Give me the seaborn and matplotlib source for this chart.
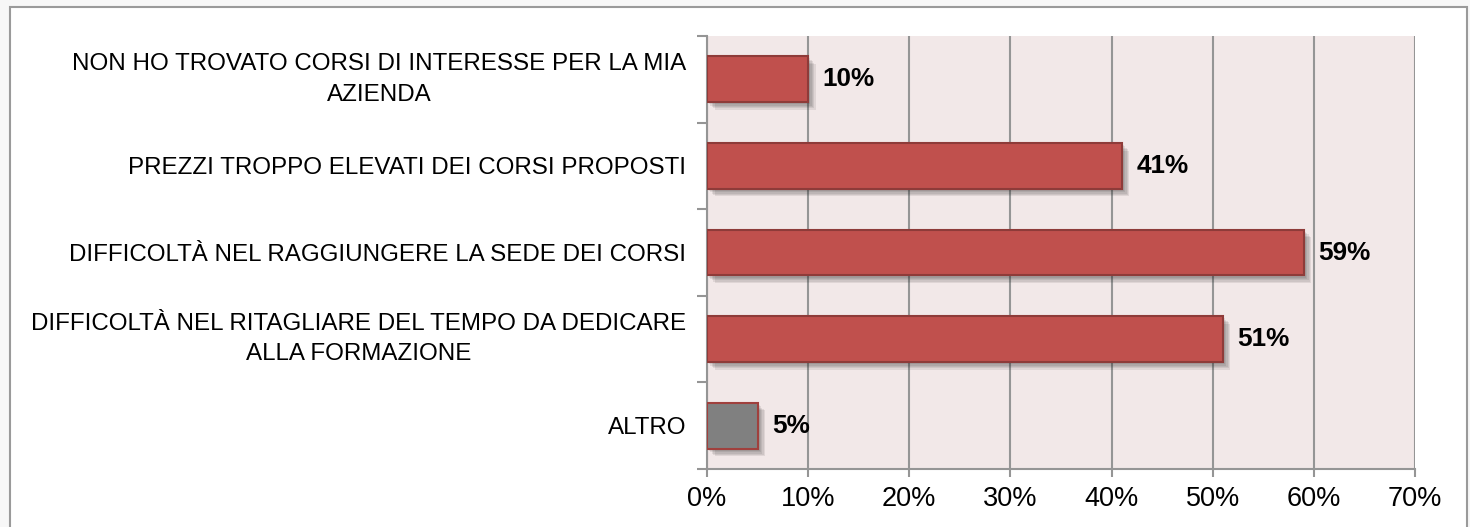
import matplotlib
matplotlib.use("Agg")
import matplotlib.pyplot as plt
import matplotlib.patheffects as pe
from matplotlib.patches import Rectangle
from matplotlib.ticker import FixedLocator, PercentFormatter
import seaborn as sns
import pandas as pd

categories = [
    "NON HO TROVATO CORSI DI INTERESSE PER LA MIA\nAZIENDA",
    "PREZZI TROPPO ELEVATI DEI CORSI PROPOSTI",
    "DIFFICOLTÀ NEL RAGGIUNGERE LA SEDE DEI CORSI",
    "DIFFICOLTÀ NEL RITAGLIARE DEL TEMPO DA DEDICARE\nALLA FORMAZIONE",
    "ALTRO",
]
values = [10, 41, 59, 51, 5]
bar_colors = ["#C0504D", "#C0504D", "#C0504D", "#C0504D", "#808080"]
edge_colors = ["#8E3B39", "#8E3B39", "#8E3B39", "#8E3B39", "#A0403D"]
x_ticks = [0, 10, 20, 30, 40, 50, 60, 70]

sns.set_theme(style="white")
plt.rcParams['font.family'] = ['Liberation Sans', 'DejaVu Sans']
plt.rcParams['text.color'] = 'black'
plt.rcParams['xtick.color'] = 'black'
plt.rcParams['ytick.color'] = 'black'

df = pd.DataFrame({"cat": categories, "val": values})

fig = plt.figure(figsize=(14.7, 5.27), dpi=100)
fig.patch.set_facecolor("#F7F7F7")
fig.patches.append(Rectangle((10 / 1470, -0.05), 1457 / 1470, 1.05 - 7 / 527,
                             transform=fig.transFigure, facecolor="white",
                             edgecolor="#9A9A9A", linewidth=1.5, zorder=-5))

ax = fig.add_axes([707 / 1470, 1 - 469 / 527, 708 / 1470, 433 / 527])
ax.set_facecolor("#F2E8E8")

sns.barplot(data=df, x="val", y="cat", hue="cat", palette=bar_colors, saturation=1,
            orient="h", width=0.53, legend=False, ax=ax, zorder=3)

shadow = [pe.SimplePatchShadow(offset=(o, -o), shadow_rgbFace="#202020", alpha=0.09)
          for o in (1.5, 2.5, 3.5, 4.5, 5.5)]
for patch, ec in zip(ax.patches, edge_colors):
    patch.set_edgecolor(ec)
    patch.set_linewidth(1.5)
    patch.set_path_effects(shadow + [pe.Normal()])

for i, v in enumerate(values):
    ax.annotate(f"{v}%", xy=(v, i), xytext=(10.5, 0), textcoords="offset points",
                ha="left", va="center", fontsize=18.8, fontweight="bold", color="black", zorder=5)

ax.set_xlim(0, 70)
ax.set_ylim(len(categories) - 0.5, -0.5)
ax.xaxis.set_major_locator(FixedLocator(x_ticks))
ax.xaxis.set_major_formatter(PercentFormatter(decimals=0))
ax.grid(axis="x", color="#959595", linewidth=1.5, zorder=1)
ax.grid(axis="y", visible=False)
ax.set_axisbelow(True)

for s in ["top", "right"]:
    ax.spines[s].set_visible(False)
for s in ["left", "bottom"]:
    ax.spines[s].set_color("#959595")
    ax.spines[s].set_linewidth(1.5)

ax.set_xlabel("")
ax.set_ylabel("")
ax.tick_params(axis="x", which="major", direction="out", length=6, width=1.5,
               color="#959595", labelcolor="black", labelsize=19.5, pad=6, bottom=True)
ax.tick_params(axis="y", which="major", length=0, labelsize=17.4, labelcolor="black",
               pad=15, left=True)
ax.yaxis.set_minor_locator(FixedLocator([i - 0.5 for i in range(len(categories) + 1)]))
ax.tick_params(axis="y", which="minor", direction="out", length=7, width=1.5,
               color="#959595", left=True)
for lbl in ax.get_yticklabels():
    lbl.set_multialignment("center")
    lbl.set_linespacing(1.5)
    if "\n" in lbl.get_text():
        lbl.set_verticalalignment("center")

fig.savefig("out.png", dpi=100, facecolor=fig.get_facecolor())
